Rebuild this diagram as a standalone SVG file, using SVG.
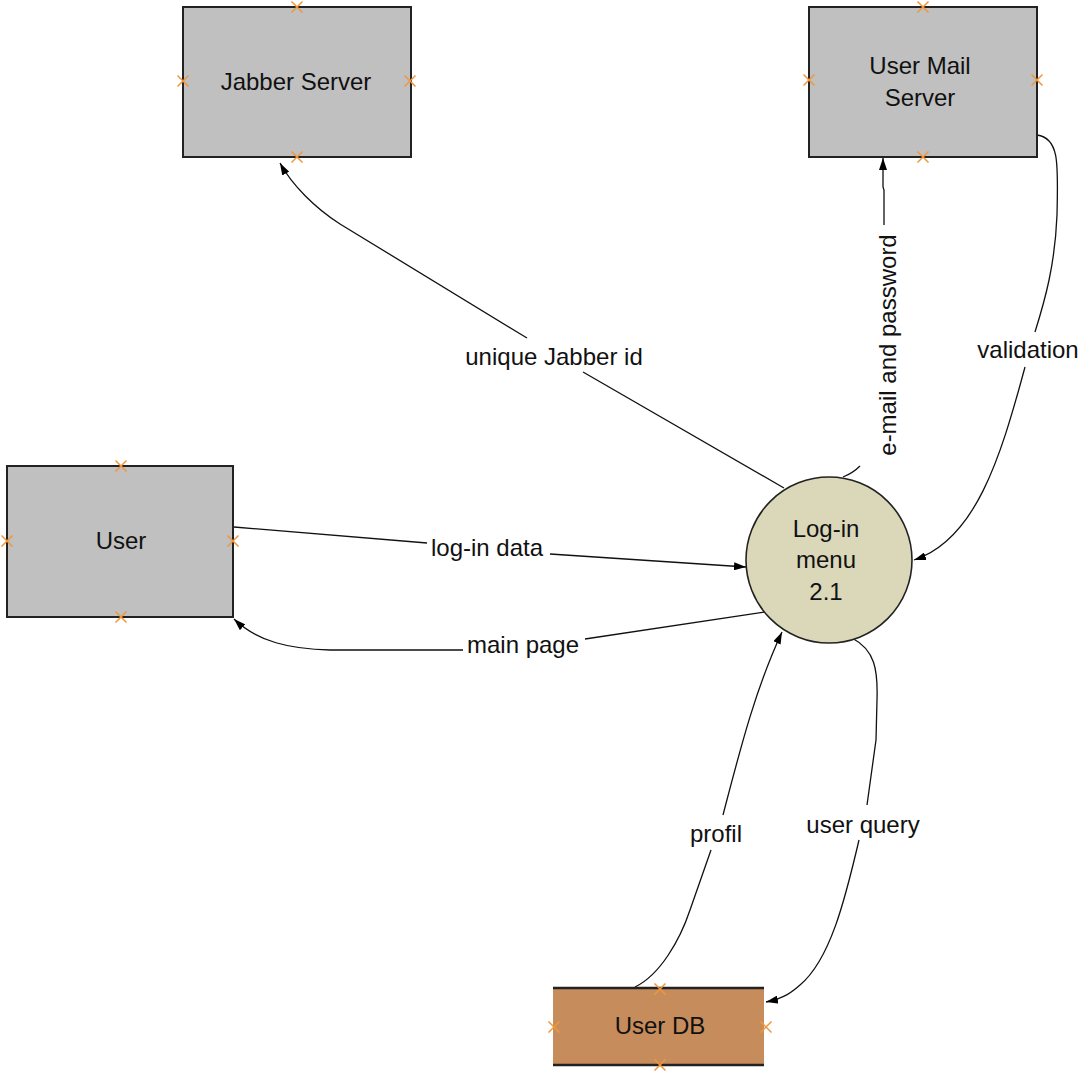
<svg xmlns="http://www.w3.org/2000/svg" width="1082" height="1072" viewBox="0 0 1082 1072">
  <style>
    text { font-family: "Liberation Sans", Arial, sans-serif; font-size: 24px; fill: #111; }
    .lbl { text-anchor: middle; }
    .ext { fill: #c0c0c0; stroke: #222; stroke-width: 2; }
    .proc { fill: #dbd7b9; stroke: #222; stroke-width: 1.6; }
    .store { fill: #c78c5b; }
    .storeEdge { stroke: #222; stroke-width: 2.5; }
    .flow { fill: none; stroke: #111; stroke-width: 1.3; marker-end: url(#arrow); }
  </style>
  <defs>
    <marker id="arrow" viewBox="0 0 12 8" refX="12" refY="4" markerWidth="12" markerHeight="8" markerUnits="userSpaceOnUse" orient="auto">
      <path d="M0,0 L12,4 L0,8 z" fill="#000"/>
    </marker>
    <g id="pin">
      <path d="M-5.5,-5.5 L5.5,5.5 M-5.5,5.5 L5.5,-5.5" stroke="#f0963c" stroke-width="1.5" fill="none"/>
    </g>
  </defs>

  <rect width="1082" height="1072" fill="#fff"/>

  <!-- data flows -->
  <g id="connectors">
    <path id="flow-jabber-id" class="flow" d="M784,488 L583,372 M527,338 L340,224 C315,208 292,185 280,163"/>
    <path id="flow-email" class="flow" d="M843,477 Q853,473 860,466 M884,225 L884,190 L883,187 L883,158"/>
    <path id="flow-validation" class="flow" d="M1037,135 C1060,138 1058,165 1057,215 C1055,265 1045,300 1035,332 M1025,367 C1000,460 975,540 914,560"/>
    <path id="flow-login-data" class="flow" d="M234,527 L427,543 M550,554 L746,567"/>
    <path id="flow-main-page" class="flow" d="M765,612 L585,639 M463,650 L330,650 C290,649 258,642 234,619"/>
    <path id="flow-profil" class="flow" d="M635,987 C660,975 680,940 690,910 L711,850 M723,815 C740,750 755,690 782,632"/>
    <path id="flow-user-query" class="flow" d="M852,638 C875,650 878,670 877,700 L876,740 L867,805 M859,840 C845,900 830,960 800,985 C792,992 785,998 766,1002"/>
  </g>

  <!-- flow labels -->
  <g id="flow-labels">
    <text class="lbl" x="554" y="365">unique Jabber id</text>
    <text class="lbl" transform="translate(888,345) rotate(-90)" x="0" y="8">e-mail and password</text>
    <text class="lbl" x="1028" y="358">validation</text>
    <text class="lbl" x="487" y="556">log-in data</text>
    <text class="lbl" x="523" y="653">main page</text>
    <text class="lbl" x="716" y="842">profil</text>
    <text class="lbl" x="863" y="833">user query</text>
  </g>

  <g id="jabber-server">
    <rect class="ext" x="183" y="7" width="228" height="150"/>
    <text class="lbl" x="296" y="90">Jabber Server</text>
    <use href="#pin" x="297" y="7"/>
    <use href="#pin" x="183" y="81"/>
    <use href="#pin" x="410" y="81"/>
    <use href="#pin" x="297" y="157"/>
  </g>

  <g id="user-mail-server">
    <rect class="ext" x="809" y="7" width="228" height="150"/>
    <text class="lbl" x="920" y="74">User Mail</text>
    <text class="lbl" x="920" y="106">Server</text>
    <use href="#pin" x="923" y="7"/>
    <use href="#pin" x="809" y="80"/>
    <use href="#pin" x="1037" y="80"/>
    <use href="#pin" x="923" y="157"/>
  </g>

  <g id="user">
    <rect class="ext" x="7" y="466" width="226" height="151"/>
    <text class="lbl" x="121" y="549">User</text>
    <use href="#pin" x="121" y="466"/>
    <use href="#pin" x="7" y="541"/>
    <use href="#pin" x="233" y="541"/>
    <use href="#pin" x="121" y="617"/>
  </g>

  <g id="login-menu">
    <circle class="proc" cx="829" cy="560" r="83"/>
    <text class="lbl" x="826" y="537">Log-in</text>
    <text class="lbl" x="826" y="568">menu</text>
    <text class="lbl" x="826" y="600">2.1</text>
  </g>

  <g id="user-db">
    <rect class="store" x="553" y="988" width="211" height="77"/>
    <path class="storeEdge" d="M553,988 H764 M553,1065 H764"/>
    <text class="lbl" x="660" y="1034">User DB</text>
    <use href="#pin" x="660" y="989"/>
    <use href="#pin" x="554" y="1027"/>
    <use href="#pin" x="766" y="1027"/>
    <use href="#pin" x="660" y="1065"/>
  </g>
</svg>
